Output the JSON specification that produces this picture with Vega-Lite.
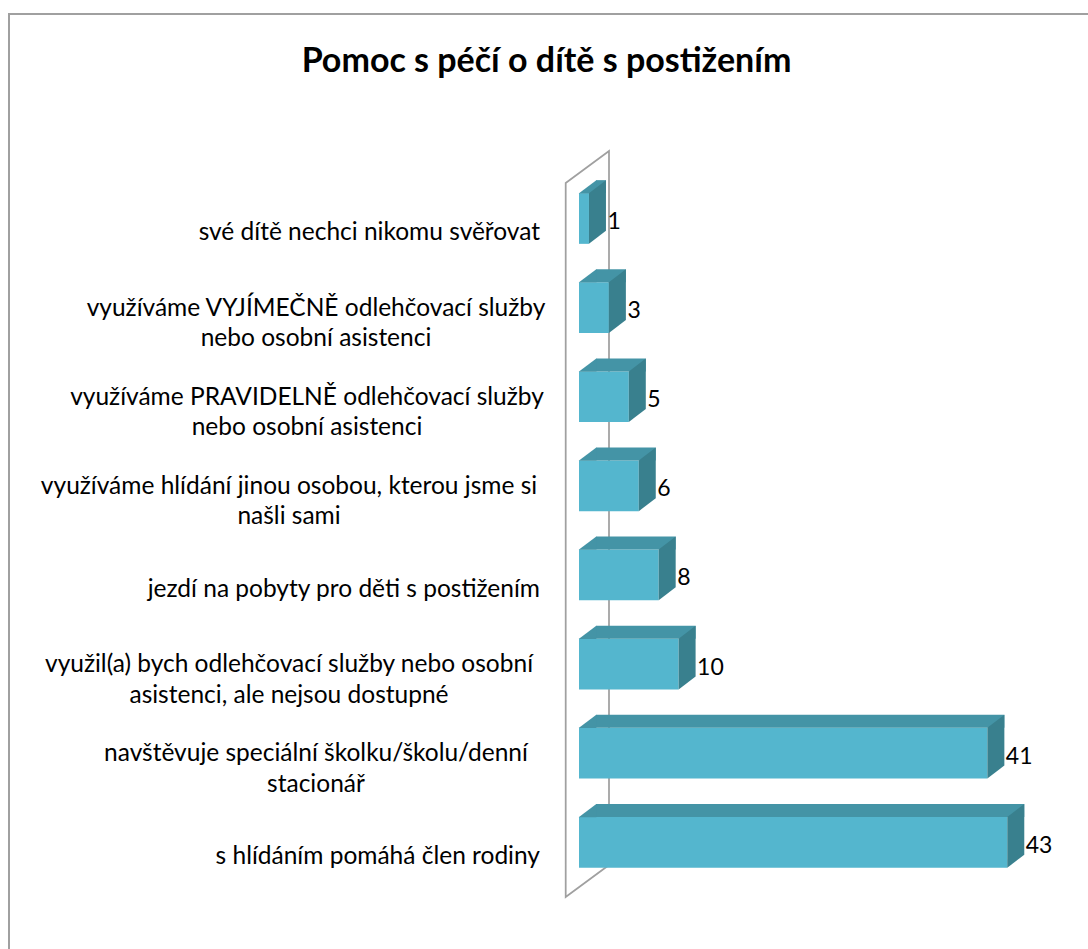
{
  "$schema": "https://vega.github.io/schema/vega-lite/v6.json",
  "width": 1083,
  "height": 939,
  "autosize": {"type": "none"},
  "padding": {"left": 9, "top": 14, "right": -4, "bottom": -4},
  "background": "white",
  "config": {"view": {"stroke": "#a0a0a0", "strokeWidth": 2}, "font": "Lato"},
  "title": {
    "text": "Pomoc s péčí o dítě s postižením",
    "font": "Lato",
    "fontSize": 34,
    "fontWeight": "bold",
    "color": "#000000",
    "anchor": "middle",
    "frame": "group",
    "baseline": "alphabetic",
    "offset": -92,
    "dx": -4
  },
  "data": {
    "values": [
      {"cat": "své dítě nechci nikomu svěřovat", "value": 1},
      {"cat": "využíváme VYJÍMEČNĚ odlehčovací služby\nnebo osobní asistenci", "value": 3},
      {"cat": "využíváme PRAVIDELNĚ odlehčovací služby\nnebo osobní asistenci", "value": 5},
      {"cat": "využíváme hlídání jinou osobou, kterou jsme si\nnašli sami", "value": 6},
      {"cat": "jezdí na pobyty pro děti s postižením", "value": 8},
      {"cat": "využil(a) bych odlehčovací služby nebo osobní\nasistenci, ale nejsou dostupné", "value": 10},
      {"cat": "navštěvuje speciální školku/školu/denní\nstacionář", "value": 41},
      {"cat": "s hlídáním pomáhá člen rodiny", "value": 43}
    ]
  },
  "encoding": {
    "y": {
      "field": "cat",
      "type": "nominal",
      "sort": null,
      "axis": null,
      "scale": {"range": [179.15, 853.65], "paddingInner": 0.4311, "paddingOuter": 0, "round": false}
    }
  },
  "layer": [
    {
      "transform": [{"filter": "datum.value == 1"}],
      "mark": {
        "type": "point",
        "shape": "M-13.3,-35.5 L30,-67.5 L30,646.5 L-13.3,678.5 Z",
        "size": 4,
        "filled": false,
        "stroke": "#a0a0a0",
        "strokeWidth": 1.75,
        "opacity": 1
      },
      "encoding": {
        "x": {"datum": 0, "type": "quantitative", "scale": {"domain": [-57.229, 51.506], "nice": false, "zero": false}, "axis": null}
      }
    },
    {
      "mark": {"type": "bar", "color": "#54B6CE"},
      "encoding": {
        "x": {"field": "value", "type": "quantitative", "scale": {"domain": [-57.229, 51.506], "nice": false, "zero": false}, "axis": null}
      }
    },
    {
      "mark": {"type": "bar", "color": "#4494A6", "height": 13, "yOffset": -31.85, "xOffset": 17},
      "encoding": {
        "x": {"field": "value", "type": "quantitative", "scale": {"domain": [-57.229, 51.506], "nice": false, "zero": false}, "axis": null}
      }
    },
    {
      "mark": {
        "type": "point",
        "shape": "M-0.3,-25.1 L17.3,-38.35 L17.3,-25.1 Z",
        "size": 4,
        "filled": true,
        "color": "#4494A6",
        "strokeWidth": 0,
        "opacity": 1
      },
      "encoding": {
        "x": {"datum": 0, "type": "quantitative", "scale": {"domain": [-57.229, 51.506], "nice": false, "zero": false}, "axis": null}
      }
    },
    {
      "mark": {
        "type": "point",
        "shape": "M0,-25.35 L17,-38.35 L17,12.35 L0,25.35 Z",
        "size": 4,
        "filled": true,
        "color": "#39808E",
        "strokeWidth": 0,
        "opacity": 1
      },
      "encoding": {
        "x": {"field": "value", "type": "quantitative", "scale": {"domain": [-57.229, 51.506], "nice": false, "zero": false}, "axis": null}
      }
    },
    {
      "mark": {"type": "text", "align": "left", "baseline": "alphabetic", "dx": 18.5, "dy": 10.5, "fontSize": 23, "font": "Lato", "color": "#000000"},
      "encoding": {
        "x": {"field": "value", "type": "quantitative", "scale": {"domain": [-57.229, 51.506], "nice": false, "zero": false}, "axis": null},
        "text": {"field": "value", "type": "quantitative"}
      }
    },
    {
      "transform": [{"filter": "indexof(datum.cat, '\\n') < 0"}],
      "mark": {"type": "text", "align": "right", "baseline": "middle", "dx": -39, "dy": 15, "fontSize": 24.5, "font": "Lato", "color": "#000000"},
      "encoding": {
        "x": {"datum": 0, "type": "quantitative", "scale": {"domain": [-57.229, 51.506], "nice": false, "zero": false}, "axis": null},
        "text": {"field": "cat", "type": "nominal"}
      }
    },
    {
      "transform": [{"filter": "datum.value == 3 || datum.value == 41"}],
      "mark": {"type": "text", "align": "center", "baseline": "middle", "dx": -263, "dy": 1, "fontSize": 24.5, "font": "Lato", "lineBreak": "\n", "lineHeight": 30.5, "color": "#000000"},
      "encoding": {
        "x": {"datum": 0, "type": "quantitative", "scale": {"domain": [-57.229, 51.506], "nice": false, "zero": false}, "axis": null},
        "text": {"field": "cat", "type": "nominal"}
      }
    },
    {
      "transform": [{"filter": "datum.value == 5"}],
      "mark": {"type": "text", "align": "center", "baseline": "middle", "dx": -272, "dy": 1, "fontSize": 24.5, "font": "Lato", "lineBreak": "\n", "lineHeight": 30.5, "color": "#000000"},
      "encoding": {
        "x": {"datum": 0, "type": "quantitative", "scale": {"domain": [-57.229, 51.506], "nice": false, "zero": false}, "axis": null},
        "text": {"field": "cat", "type": "nominal"}
      }
    },
    {
      "transform": [{"filter": "datum.value == 6 || datum.value == 10"}],
      "mark": {"type": "text", "align": "center", "baseline": "middle", "dx": -290, "dy": 1, "fontSize": 24.5, "font": "Lato", "lineBreak": "\n", "lineHeight": 30.5, "color": "#000000"},
      "encoding": {
        "x": {"datum": 0, "type": "quantitative", "scale": {"domain": [-57.229, 51.506], "nice": false, "zero": false}, "axis": null},
        "text": {"field": "cat", "type": "nominal"}
      }
    }
  ]
}
